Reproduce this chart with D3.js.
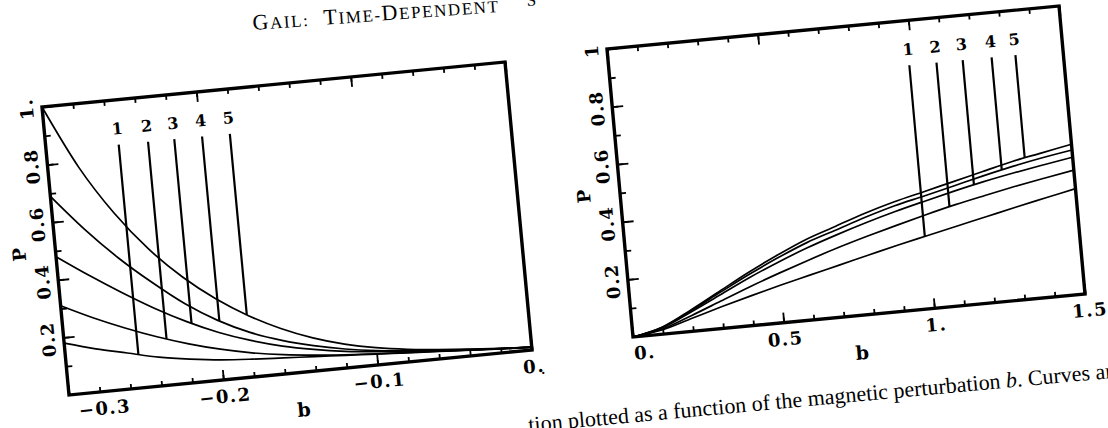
<!DOCTYPE html>
<html>
<head>
<meta charset="utf-8">
<script src="https://cdn.jsdelivr.net/npm/d3@7"></script>
<style>
  body { margin: 0; background: #fff; }
</style>
</head>
<body>
<svg id="fig" width="1108" height="428"></svg>
<script>
// left panel, b < 0
const bLeft = [-0.3, -0.28, -0.26, -0.24, -0.22, -0.2, -0.18, -0.16, -0.14, -0.12, -0.1, -0.08, -0.06, -0.04, -0.02, 0];
const pLeft = [
  [0.18, 0.15, 0.125, 0.1, 0.083, 0.07, 0.062, 0.056, 0.05, 0.044, 0.038, 0.032, 0.026, 0.02, 0.014, 0.01],
  [0.31, 0.258, 0.212, 0.171, 0.136, 0.107, 0.084, 0.067, 0.055, 0.046, 0.039, 0.033, 0.027, 0.021, 0.015, 0.01],
  [0.48, 0.405, 0.335, 0.27, 0.213, 0.165, 0.127, 0.097, 0.075, 0.058, 0.046, 0.037, 0.029, 0.022, 0.015, 0.01],
  [0.69, 0.565, 0.455, 0.36, 0.275, 0.207, 0.155, 0.117, 0.088, 0.066, 0.05, 0.039, 0.03, 0.022, 0.015, 0.01],
  [1.0, 0.78, 0.61, 0.475, 0.368, 0.282, 0.213, 0.158, 0.115, 0.083, 0.06, 0.044, 0.033, 0.024, 0.016, 0.01]
];
const markLeft = [-0.253, -0.234, -0.217, -0.199, -0.181];
const leftXTicks = [-0.3, -0.2, -0.1, 0];
const leftXLabels = ["\u22120.3", "\u22120.2", "\u22120.1", "0."];
const leftYLabels = ["0.2", "0.4", "0.6", "0.8", "1."];

// right panel, b > 0
const bRight = [0, 0.1, 0.2, 0.3, 0.4, 0.5, 0.6, 0.7, 0.8, 0.9, 1.0, 1.1, 1.2, 1.3, 1.4, 1.5];
const pRight = [
  [0, 0.015, 0.045, 0.075, 0.103, 0.13, 0.155, 0.18, 0.205, 0.23, 0.253, 0.276, 0.299, 0.322, 0.344, 0.366],
  [0, 0.018, 0.055, 0.095, 0.135, 0.172, 0.207, 0.24, 0.27, 0.298, 0.325, 0.35, 0.372, 0.393, 0.412, 0.43],
  [0, 0.022, 0.068, 0.117, 0.166, 0.21, 0.25, 0.285, 0.317, 0.346, 0.372, 0.397, 0.42, 0.44, 0.458, 0.475],
  [0, 0.024, 0.072, 0.125, 0.177, 0.225, 0.268, 0.302, 0.336, 0.366, 0.39, 0.415, 0.44, 0.463, 0.483, 0.5],
  [0, 0.025, 0.075, 0.13, 0.185, 0.235, 0.28, 0.315, 0.35, 0.38, 0.405, 0.43, 0.455, 0.48, 0.5, 0.52]
];
const markRight = [0.99, 1.08, 1.167, 1.263, 1.342];
const rightXTicks = [0, 0.5, 1, 1.5];
const rightXLabels = ["0.", "0.5", "1.", "1.5"];
const rightYLabels = ["0.2", "0.4", "0.6", "0.8", "1"];

const yTicks = [0.2, 0.4, 0.6, 0.8, 1];
const markNames = ["1", "2", "3", "4", "5"];
const markTop = 0.845, markLabelP = 0.9;

// running head, in small caps: [text, capital?]
const headParts = [["G", 1], ["AIL:", 0], ["\u00a0\u00a0T", 1], ["IME-", 0], ["D", 1], ["EPENDENT", 0]];

const svg = d3.select("#fig");
const FONT = "'DejaVu Serif', serif";
const SERIF = "'Liberation Serif', serif";

function drawPanel(c) {
  // the scan is slightly rotated, so each panel gets its own affine frame
  const m = [(c.tr[0] - c.tl[0]) / c.W, (c.tr[1] - c.tl[1]) / c.W,
             (c.bl[0] - c.tl[0]) / c.H, (c.bl[1] - c.tl[1]) / c.H, c.tl[0], c.tl[1]];
  const g = svg.append("g").attr("transform", `matrix(${m.join(",")})`);

  const x = d3.scaleLinear().domain(c.xDomain).range([0, c.W]);
  const y = d3.scaleLinear().domain([0, 1]).range([c.H, 0]);
  const fmt = (ticks, labels) => v => {
    const i = ticks.findIndex(t => Math.abs(t - v) < 1e-9);
    return i < 0 ? "" : labels[i];
  };
  const yMinor = d3.range(0.1, 1, 0.1);

  g.append("g").attr("transform", `translate(0,${c.H})`)
    .call(d3.axisBottom(x).tickValues(c.xMinor).tickSize(-5).tickFormat(""));
  g.append("g").call(d3.axisTop(x).tickValues(c.xMinor).tickSize(-5).tickFormat(""));
  g.append("g").call(d3.axisLeft(y).tickValues(yMinor).tickSize(-6).tickFormat(""));

  const xb = g.append("g").attr("transform", `translate(0,${c.H})`)
    .call(d3.axisBottom(x).tickValues(c.xTicks).tickSize(-10).tickPadding(10)
      .tickFormat(fmt(c.xTicks, c.xLabels)));
  g.append("g").call(d3.axisTop(x).tickValues(c.xTicks).tickSize(-10).tickFormat(""));
  const yl = g.append("g")
    .call(d3.axisLeft(y).tickValues(yTicks).tickSize(-11).tickFormat(fmt(yTicks, c.yLabels)));

  g.selectAll(".domain").remove();
  g.selectAll(".tick line").attr("stroke", "#000").attr("stroke-width", 1.8);
  g.selectAll(".tick text").attr("fill", "#000").attr("font-family", FONT)
    .attr("font-weight", "bold").attr("font-size", 18).attr("letter-spacing", 1.5);

  xb.selectAll(".tick text").attr("dx", (d, i, n) => i === 0 ? c.firstShift : (i === n.length - 1 ? c.lastShift : 0));
  yl.selectAll(".tick text").attr("x", null).attr("dy", null)
    .attr("text-anchor", "middle").attr("transform", "translate(-9,0) rotate(-90)");

  const line = d3.line().x((d, i) => x(c.b[i])).y(d => y(d)).curve(d3.curveMonotoneX);
  g.selectAll(".curve").data(c.p).join("path").attr("class", "curve")
    .attr("d", line).attr("fill", "none").attr("stroke", "#000").attr("stroke-width", 1.7);

  const marks = c.marks.map((b, i) => ({
    b, name: markNames[i],
    p: d3.scaleLinear().domain(c.b).range(c.p[i])(b)
  }));
  g.selectAll(".mark").data(marks).join("line").attr("class", "mark")
    .attr("x1", d => x(d.b)).attr("x2", d => x(d.b))
    .attr("y1", y(markTop)).attr("y2", d => y(d.p))
    .attr("stroke", "#000").attr("stroke-width", 2.2);
  g.selectAll(".mlab").data(marks).join("text").attr("class", "mlab")
    .attr("x", d => x(d.b)).attr("y", y(markLabelP)).attr("dy", "0.35em")
    .attr("text-anchor", "middle").attr("font-family", FONT).attr("font-weight", "bold")
    .attr("font-size", 16).text(d => d.name);

  g.append("rect").attr("width", c.W).attr("height", c.H)
    .attr("fill", "none").attr("stroke", "#000").attr("stroke-width", 3.4);

  g.append("text").attr("transform", `translate(-30,${c.H / 2}) rotate(-90)`)
    .attr("text-anchor", "middle").attr("font-family", FONT).attr("font-weight", "bold")
    .attr("font-size", 18).text("P");
  g.append("text").attr("x", c.W / 2).attr("y", c.H + 44)
    .attr("text-anchor", "middle").attr("font-family", FONT).attr("font-weight", "bold")
    .attr("font-size", 19).text("b");
}

drawPanel({
  tl: [42, 107], tr: [505, 62], bl: [69, 395], W: 465, H: 289,
  xDomain: [-0.3, 0], xTicks: leftXTicks, xLabels: leftXLabels,
  xMinor: d3.range(-0.3, 0.001, 0.02), yLabels: leftYLabels,
  b: bLeft, p: pLeft, marks: markLeft, firstShift: 34, lastShift: 0
});

drawPanel({
  tl: [607, 49], tr: [1059, 6], bl: [633, 337], W: 454, H: 289,
  xDomain: [0, 1.5], xTicks: rightXTicks, xLabels: rightXLabels,
  xMinor: d3.range(0, 1.501, 0.1), yLabels: rightYLabels,
  b: bRight, p: pRight, marks: markRight, firstShift: 10, lastShift: 3
});

// running head of the page
const head = svg.append("text").attr("transform", "translate(253,30) rotate(-4.2)")
  .attr("font-family", SERIF).attr("letter-spacing", 1.6);
head.selectAll("tspan").data(headParts).join("tspan")
  .attr("font-size", d => d[1] ? 22 : 17).text(d => d[0]);
svg.append("text").attr("transform", "translate(527,6) rotate(-4.2)")
  .attr("font-family", SERIF).attr("font-size", 17).text("S");

// caption fragment
const cap = svg.append("text").attr("transform", "translate(529,432) rotate(-5.3)")
  .attr("font-family", SERIF).attr("font-size", 22);
cap.append("tspan").text("tion plotted as a function of the magnetic perturbation ");
cap.append("tspan").attr("font-style", "italic").text("b");
cap.append("tspan").text(". Curves are");
svg.append("text").attr("x", 541).attr("y", 374)
  .attr("font-family", SERIF).attr("font-size", 18).text(".");
</script>
</body>
</html>
